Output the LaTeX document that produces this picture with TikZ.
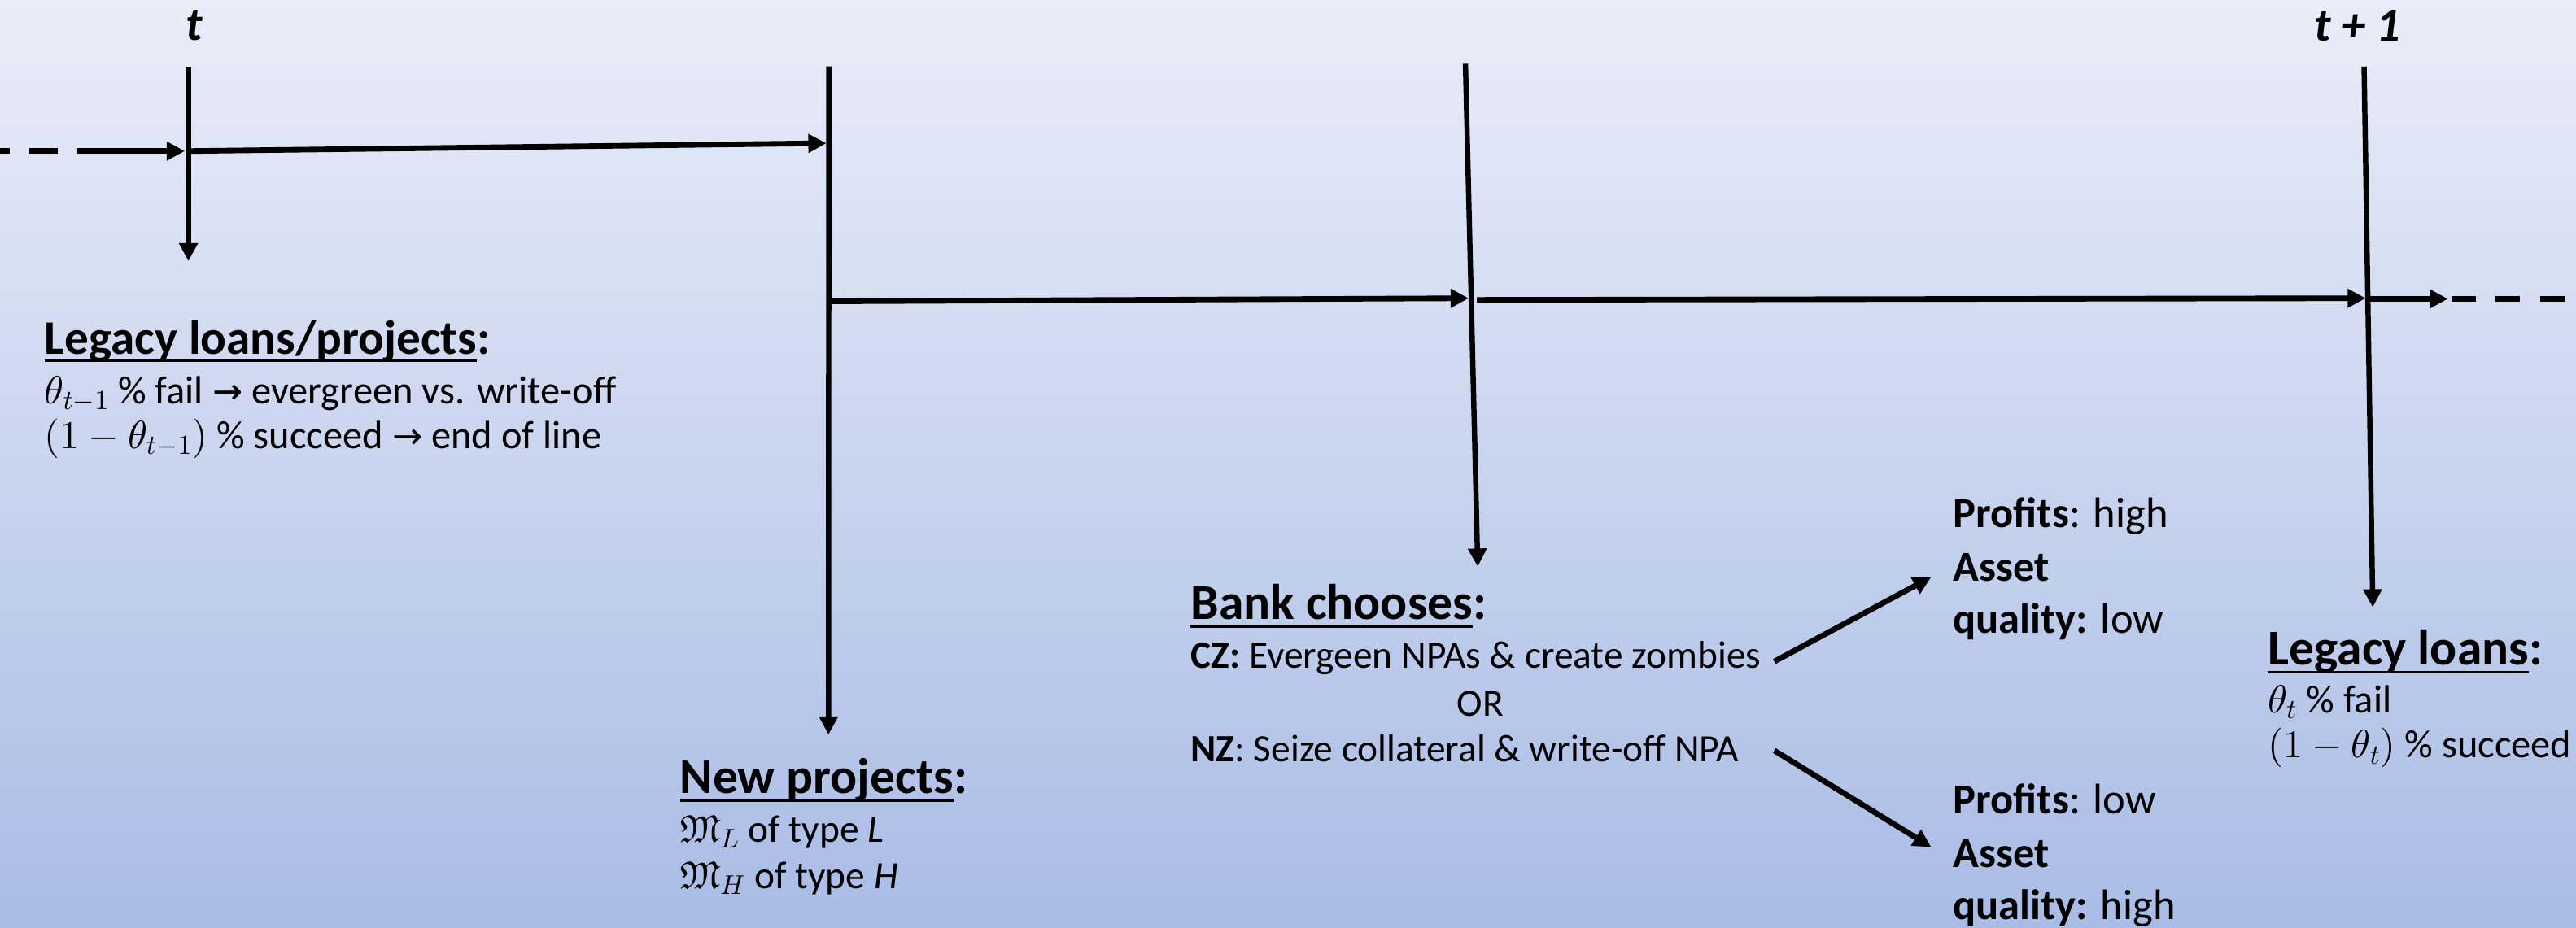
\RequirePackage{fix-cm}
\documentclass[tikz,border=0pt]{standalone}
\usepackage{amssymb}
\DeclareFontFamily{U}{euf}{}
\DeclareFontShape{U}{euf}{m}{n}{<->eufm10}{}
\DeclareFontShape{OML}{cmm}{m}{it}{<->cmmi10}{}
\DeclareFontShape{OMS}{cmsy}{m}{n}{<->cmsy10}{}
\DeclareFontShape{OT1}{cmr}{m}{n}{<->cmr10}{}
\DeclareFontShape{OMX}{cmex}{m}{n}{<->cmex10}{}
\usepackage{fontspec}
\setmainfont{Carlito}
\newfontfamily\dejavu{DejaVu Sans}
\newcommand\txtarr{{\dejavu\fontsize{22}{24}\selectfont →}}
\usetikzlibrary{arrows.meta}
\definecolor{bgtop}{HTML}{E9EDF8}
\definecolor{bgbot}{HTML}{A9BCE5}
\newcommand\hdul[1]{\setbox0\hbox{#1}\rlap{\rule[-0.17em]{\wd0}{0.055em}}\box0}
\begin{document}
\begin{tikzpicture}[x=1pt,y=-1pt,
  vline/.style={line width=3.2pt,-{Triangle[length=11pt,width=11pt]}},
  arr/.style={line width=3.4pt,-{Triangle[length=11pt,width=11pt]}},
  dsh/.style={line width=3.4pt,dash pattern=on 15pt off 12pt},
  hd/.style={anchor=base west,inner sep=0pt,font=\fontsize{30.5}{36}\selectfont\bfseries},
  bd/.style={anchor=base west,inner sep=0pt,font=\fontsize{24}{28}\selectfont},
  bdb/.style={anchor=base west,inner sep=0pt,font=\fontsize{23.5}{28}\selectfont},
  pr/.style={anchor=base west,inner sep=0pt,font=\fontsize{26}{32}\selectfont},
  tm/.style={anchor=base,inner sep=0pt,font=\fontsize{29}{35}\selectfont\bfseries\itshape}]
\shade[top color=bgtop,bottom color=bgbot] (0,0) rectangle (1568,565);
\useasboundingbox (0,0) rectangle (1568,565);

% time labels
\node[tm] (tlab) at (118,24.5) {t};
\node[tm] (t1lab) at (1435,24.8) {t + 1};

% coordinates
\coordinate (L0) at (0,92);
\coordinate (L1) at (35,92);
\coordinate (L2) at (47,92);
\coordinate (v1t) at (114.7,40.4);
\coordinate (v1b) at (114.7,159);
\coordinate (v1a) at (112.5,92);
\coordinate (v1c) at (114.7,92);
\coordinate (v2t) at (504.5,40.4);
\coordinate (v2b) at (504.3,447.3);
\coordinate (v2a) at (503,87.2);
\coordinate (v2c) at (504.5,183.5);
\coordinate (v3t) at (892,38.8);
\coordinate (v3b) at (899.5,345);
\coordinate (v3a) at (894,181.6);
\coordinate (v3c) at (899,182.6);
\coordinate (v4t) at (1439,40.5);
\coordinate (v4b) at (1444.3,369.8);
\coordinate (v4a) at (1440,181.6);
\coordinate (v4c) at (1442,182);
\coordinate (R1) at (1490,182);
\coordinate (R2) at (1492,182);
\coordinate (R3) at (1562,182);
\coordinate (cz) at (1080,402.8);
\coordinate (nz) at (1080,457);
\coordinate (ph) at (1175.5,351.4);
\coordinate (pl) at (1175.5,515.8);

% timeline
\draw[line width=3.4pt,dash pattern=on 17pt off 12pt,dash phase=11pt] (L0) -- (L1);
\draw[arr] (L2) -- (v1a);
\draw[vline] (v1t) -- (v1b);
\draw[arr] (v1c) -- (v2a);
\draw[vline] (v2t) -- (v2b);
\draw[arr] (v2c) -- (v3a);
\draw[vline] (v3t) -- (v3b);
\draw[arr] (v3c) -- (v4a);
\draw[vline] (v4t) -- (v4b);
\draw[arr] (v4c) -- (R1);
\draw[dsh] (R2) -- (R3);

% legacy loans/projects
\node[hd,font=\fontsize{29.3}{35}\selectfont\bfseries] (lh) at (27,215.5) {\hdul{Legacy loans/projects}:};
\node[bd] (l1) at (27,246) {$\theta_{t-1}$ \% fail \txtarr{} evergreen vs. write-off};
\node[bd] (l2) at (27,273) {$(1-\theta_{t-1})$ \% succeed \txtarr{} end of line};

% new projects
\node[hd] (nh) at (413.6,483) {\hdul{New projects}:};
\node[bdb] (n1) at (413.6,512.6) {$\mathfrak{M}_L$ of type \textit{L}};
\node[bdb] (n2) at (413.6,541) {$\mathfrak{M}_H$ of type \textit{H}};

% bank chooses
\node[hd] (bh) at (724.6,377) {\hdul{Bank chooses}:};
\node[bdb] (b1) at (724.6,407) {\textbf{CZ:} Evergeen NPAs \& create zombies};
\node[bdb,anchor=base] (b2) at (901,436) {OR};
\node[bdb] (b3) at (724.6,464) {\textbf{NZ}: Seize collateral \& write-off NPA};

% outcomes
\node[pr] (p1) at (1188.7,321) {\textbf{Profits}: high};
\node[pr] (p2) at (1188.7,353.7) {\textbf{Asset}};
\node[pr] (p3) at (1188.7,385.6) {\textbf{quality:} low};
\node[pr] (q1) at (1188.7,495.5) {\textbf{Profits}: low};
\node[pr] (q2) at (1188.7,528) {\textbf{Asset}};
\node[pr] (q3) at (1188.7,560) {\textbf{quality:} high};
\draw[arr] (cz) -- (ph);
\draw[arr] (nz) -- (pl);

% legacy loans t
\node[hd] (rh) at (1380.3,405) {\hdul{Legacy loans}:};
\node[bd] (r1) at (1380.3,434) {$\theta_t$ \% fail};
\node[bd] (r2) at (1380.3,461.5) {$(1-\theta_t)$ \% succeed};
\end{tikzpicture}
\end{document}
